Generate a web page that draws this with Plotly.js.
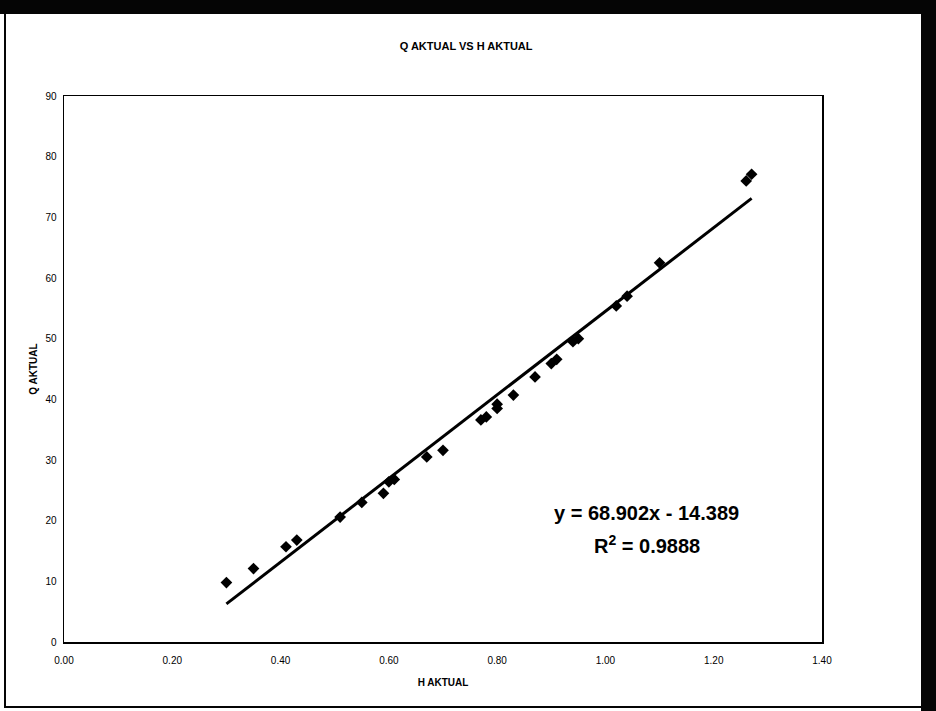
<!DOCTYPE html>
<html>
<head>
<meta charset="utf-8">
<script src="https://cdn.plot.ly/plotly-3.0.1.min.js"></script>
<style>
  html, body { margin: 0; padding: 0; background: #ffffff; }
  #page { position: relative; width: 936px; height: 711px; overflow: hidden; background: #ffffff; }
  .band { position: absolute; background: #050505; }
  #chart { position: absolute; left: 0; top: 0; width: 936px; height: 711px; }
</style>
</head>
<body>
<div id="page">
  <div class="band" style="left:0;top:0;width:936px;height:14px;"></div>
  <div class="band" style="left:921px;top:0;width:15px;height:711px;"></div>
  <div class="band" style="left:4px;top:14px;width:1.5px;height:693px;"></div>
  <div class="band" style="left:4px;top:706px;width:917px;height:1.5px;"></div>
  <div id="chart"></div>
</div>
<script>
// Data
const hAktual = [0.30, 0.35, 0.41, 0.43, 0.51, 0.55, 0.59, 0.60, 0.61, 0.67, 0.70, 0.77, 0.78, 0.80, 0.80, 0.83, 0.87, 0.90, 0.91, 0.94, 0.95, 1.02, 1.04, 1.10, 1.26, 1.27];
const qAktual = [9.8, 12.1, 15.7, 16.8, 20.6, 23.0, 24.5, 26.4, 26.8, 30.5, 31.6, 36.6, 37.1, 38.5, 39.2, 40.7, 43.7, 45.9, 46.6, 49.5, 50.0, 55.4, 57.0, 62.5, 76.0, 77.1];
// Trendline coefficients as displayed on the chart
const slope = 68.902;
const intercept = -14.389;
const rSquared = 0.9888;

const xMin = Math.min(...hAktual);
const xMax = Math.max(...hAktual);
const trendX = [xMin, xMax];
const trendY = trendX.map(x => slope * x + intercept);

const narrow = "'Liberation Sans Narrow', 'Arial Narrow', 'Liberation Sans', Arial, sans-serif";
const sans = "'Liberation Sans', Arial, sans-serif";

const traces = [
  {
    x: trendX, y: trendY, mode: 'lines', type: 'scatter',
    line: { color: '#000000', width: 3 }, hoverinfo: 'skip', showlegend: false
  },
  {
    x: hAktual, y: qAktual, mode: 'markers', type: 'scatter',
    marker: { symbol: 'diamond', size: 9, color: '#000000' }, showlegend: false
  }
];

const eqLine = 'y = ' + slope.toFixed(3) + 'x - ' + Math.abs(intercept).toFixed(3);
const r2Line = 'R<sup>2</sup> = ' + rSquared.toFixed(4);

const layout = {
  width: 936, height: 711,
  paper_bgcolor: 'rgba(0,0,0,0)',
  plot_bgcolor: '#ffffff',
  margin: { l: 64, r: 114, t: 96, b: 69 },
  showlegend: false,
  title: {
    text: '<b>Q AKTUAL VS H AKTUAL</b>',
    font: { family: narrow, size: 11, color: '#000000' },
    xref: 'container', x: 0.498, xanchor: 'center',
    yref: 'container', y: 1 - 46 / 711, yanchor: 'middle'
  },
  xaxis: {
    range: [0, 1.4], dtick: 0.2, tick0: 0, tickformat: '.2f',
    showgrid: false, zeroline: false,
    showline: true, mirror: true, linecolor: '#000000', linewidth: 1.5,
    ticks: '', ticklabelstandoff: 8,
    tickfont: { family: narrow, size: 10, color: '#000000' },
    title: { text: '<b>H AKTUAL</b>', font: { family: narrow, size: 10, color: '#000000' }, standoff: 14 }
  },
  yaxis: {
    range: [0, 90], dtick: 10, tick0: 0,
    showgrid: false, zeroline: false,
    showline: true, mirror: true, linecolor: '#000000', linewidth: 1.5,
    ticks: '', ticklabelstandoff: 4,
    tickfont: { family: narrow, size: 10, color: '#000000' },
    title: { text: '<b>Q AKTUAL</b>', font: { family: narrow, size: 10, color: '#000000' }, standoff: 6 }
  },
  annotations: [
    {
      text: '<b>' + eqLine + '</b>',
      xref: 'x', yref: 'y', x: 1.076, y: 21.2,
      xanchor: 'center', yanchor: 'middle', align: 'center',
      showarrow: false,
      font: { family: sans, size: 20, color: '#000000' }
    },
    {
      text: '<b>' + r2Line + '</b>',
      xref: 'x', yref: 'y', x: 1.076, y: 16.0,
      xanchor: 'center', yanchor: 'middle', align: 'center',
      showarrow: false,
      font: { family: sans, size: 20, color: '#000000' }
    }
  ]
};

Plotly.newPlot('chart', traces, layout, { displayModeBar: false, staticPlot: true });
</script>
</body>
</html>
